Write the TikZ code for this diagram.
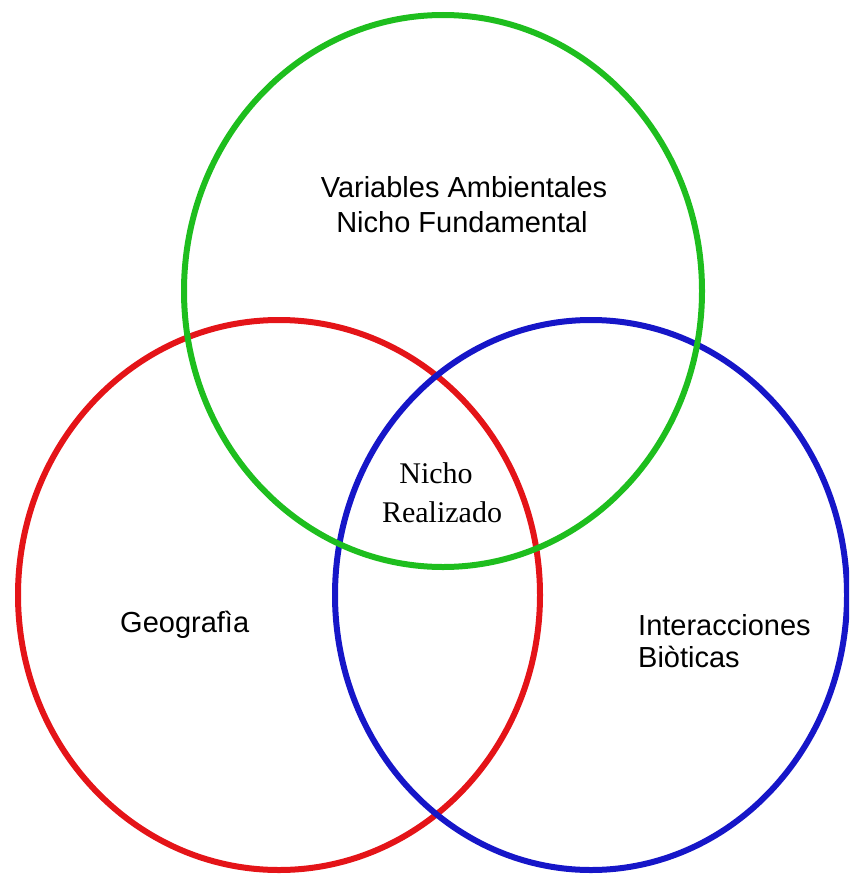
\documentclass[tikz,border=0pt]{standalone}
\usepackage{fontspec}
\setmainfont{Liberation Serif}
\setsansfont{Liberation Sans}

\tikzset{
  ring/.style={line width=6pt},
  etiqueta/.style={font=\sffamily\fontsize{29}{34}\selectfont, inner sep=0pt},
  centro/.style={font=\rmfamily\fontsize{30}{39}\selectfont, inner sep=0pt}
}
\definecolor{verde}{RGB}{30,190,30}
\definecolor{rojo}{RGB}{228,20,24}
\definecolor{azul}{RGB}{22,22,200}

\begin{document}
\begin{tikzpicture}[x=1pt, y=-1pt]
            \useasboundingbox (0,0) rectangle (849,875);
            \begin{scope}
              \clip (0,0) rectangle (849,875);
              \draw [ring, rojo] (279,595) ellipse [x radius=261, y radius=275];
              \draw [ring, azul] (591,595) ellipse [x radius=256, y radius=275];
              \draw [ring, verde] (443,291) ellipse [x radius=259, y radius=276];
            \end{scope}
            \node (ambiente) [etiqueta, anchor=base] at (464,197) {Variables Ambientales};
            \node (fundamental) [etiqueta, anchor=base] at (462,232) {Nicho Fundamental};
            \node (nicho) [centro, anchor=base] at (436,483) {Nicho};
            \node (realizado) [centro, anchor=base] at (442,522) {Realizado};
            \node (geografia) [etiqueta, anchor=base west] at (120,632) {Geografìa};
            \node (interacciones) [etiqueta, anchor=base west] at (638,635) {Interacciones};
            \node (bioticas) [etiqueta, anchor=base west] at (638,667) {Biòticas};
          \end{tikzpicture}
\end{document}
